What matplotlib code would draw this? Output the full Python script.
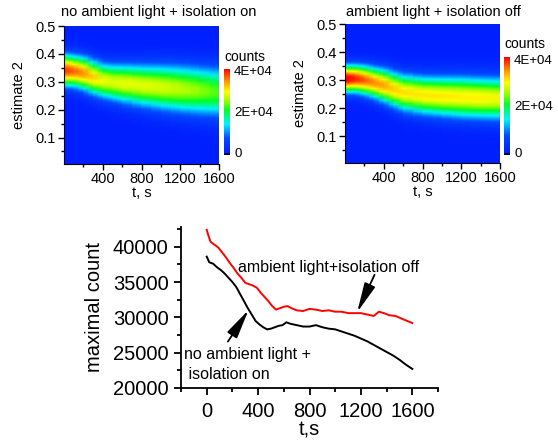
import numpy as np
import matplotlib
matplotlib.use('Agg')
import matplotlib.pyplot as plt
from matplotlib.colors import LinearSegmentedColormap, Normalize
from matplotlib.ticker import MultipleLocator, FixedLocator

plt.rcParams['font.family'] = ['Liberation Sans', 'DejaVu Sans']

# --- bottom panel: maximal count vs time ---
t_off = [0, 15, 30, 60, 90, 120, 150, 180, 210, 240, 270, 300, 330, 360, 390, 420,
         450, 480, 510, 540, 570, 600, 630, 660, 700, 750, 800, 850, 900, 950, 1000,
         1050, 1100, 1150, 1200, 1250, 1300, 1340, 1380, 1420, 1470, 1520, 1560, 1600]
count_off = [42400, 41500, 40700, 40300, 39900, 39200, 38500, 37700, 37000, 36200,
             35600, 34900, 34700, 34500, 34200, 33500, 32900, 32300, 31600, 31100,
             31300, 31500, 31600, 31300, 31000, 30900, 31200, 31100, 30900, 31000,
             30800, 30800, 30600, 30600, 30600, 30400, 30200, 30800, 30600, 30300,
             30200, 29800, 29500, 29200]

t_on = [0, 20, 50, 80, 110, 140, 170, 200, 230, 260, 290, 320, 350, 380, 410, 440,
        470, 500, 530, 560, 590, 620, 650, 700, 750, 800, 850, 900, 950, 1000, 1050,
        1100, 1150, 1200, 1250, 1300, 1350, 1400, 1450, 1500, 1550, 1600]
count_on = [38600, 37800, 37600, 37100, 36700, 36200, 35600, 35000, 34300, 33300,
            32300, 31300, 30400, 29500, 29000, 28600, 28300, 28400, 28600, 28800,
            28900, 29300, 29100, 28900, 28700, 28700, 28900, 28600, 28400, 28300,
            28000, 27700, 27400, 27000, 26600, 26100, 25600, 25100, 24600, 24000,
            23300, 22700]

# --- top panels: band profile read at knot times ---
knot_t = [0, 100, 200, 300, 400, 500, 600, 800, 1000, 1200, 1400, 1600]
centre_on = [0.343, 0.340, 0.332, 0.318, 0.306, 0.300, 0.296, 0.288, 0.282, 0.276, 0.270, 0.264]
sigma_on = [0.038, 0.038, 0.040, 0.042, 0.043, 0.045, 0.047, 0.051, 0.055, 0.058, 0.060, 0.062]
peak_on = [38600, 36800, 35000, 32000, 29300, 28300, 29000, 28700, 28200, 27000, 25100, 22700]
centre_off = [0.307, 0.307, 0.302, 0.293, 0.283, 0.270, 0.258, 0.248, 0.244, 0.241, 0.238, 0.236]
sigma_off = [0.032, 0.033, 0.035, 0.037, 0.040, 0.042, 0.044, 0.046, 0.048, 0.050, 0.050, 0.051]
peak_off = [42400, 39800, 37300, 35200, 34200, 32300, 31300, 31000, 30800, 30500, 30500, 29200]

cbar_ticks = [0, 20000, 40000]
cbar_labels = ['0', '2E+04', '4E+04']

# Origin-like rainbow palette with black at the bottom
cmap = LinearSegmentedColormap.from_list('origin_rainbow', [
    (0.0, (0, 0, 0)), (0.012, (0, 0, 0)), (0.022, (0, 0.12, 1)),
    (0.2, (0, 0.3, 1)), (0.36, (0, 0.95, 1)), (0.52, (0, 1, 0.15)),
    (0.62, (0.55, 1, 0)), (0.74, (1, 1, 0)), (0.87, (1, 0.55, 0)), (1.0, (1, 0, 0))])
norm = Normalize(vmin=-1000, vmax=40800)

fig = plt.figure(figsize=(5.58, 4.43), dpi=100)

def heat_panel(rect, crect, title, title_x, centre, sigma, peak):
    ax = fig.add_axes(rect)
    yy = np.linspace(0.0, 0.5, 251)
    tt = np.array(knot_t)
    Y, T = np.meshgrid(yy, tt, indexing='ij')
    Z = np.array(peak)[None, :] * np.exp(-(Y - np.array(centre)[None, :]) ** 2
                                         / (2 * np.array(sigma)[None, :] ** 2))
    im = ax.pcolormesh(T, Y, Z, cmap=cmap, norm=norm, shading='gouraud', rasterized=True)
    ax.set_xlim(0, 1600)
    ax.set_ylim(0.005, 0.5)
    ax.xaxis.set_major_locator(FixedLocator([400, 800, 1200, 1600]))
    ax.xaxis.set_minor_locator(FixedLocator([200, 600, 1000, 1400]))
    ax.yaxis.set_major_locator(FixedLocator([0.1, 0.2, 0.3, 0.4, 0.5]))
    ax.yaxis.set_minor_locator(FixedLocator([0.05, 0.15, 0.25, 0.35, 0.45]))
    ax.set_yticklabels(['0.1', '0.2', '0.3', '0.4', '0.5'])
    ax.tick_params(direction='out', labelsize=10.5, length=4, width=1, pad=2)
    ax.tick_params(which='minor', direction='out', length=2.5, width=1)
    for s in ['top', 'right']:
        ax.spines[s].set_visible(False)
    ax.set_xlabel('t, s', fontsize=10.5, labelpad=0)
    ax.set_ylabel('estimate 2', fontsize=10.5, labelpad=7)
    fig.text(title_x, 0.972, title, fontsize=10.5, ha='center', va='center')
    cax = fig.add_axes(crect)
    cb = fig.colorbar(im, cax=cax, ticks=cbar_ticks)
    cb.ax.set_yticklabels(cbar_labels)
    cb.ax.tick_params(length=0, labelsize=9.5, pad=3)
    cb.outline.set_visible(False)
    cax.text(0.0, 1.06, 'counts', transform=cax.transAxes, fontsize=10,
             ha='left', va='bottom')
    return ax

heat_panel([0.1147, 0.6298, 0.2778, 0.3115], [0.4014, 0.650, 0.0108, 0.194],
           'no ambient light + isolation on', 159 / 558, centre_on, sigma_on, peak_on)
heat_panel([0.6183, 0.632, 0.2778, 0.3138], [0.9032, 0.650, 0.0108, 0.221],
           'ambient light + isolation off', 433 / 558, centre_off, sigma_off, peak_off)

ax = fig.add_axes([0.3244, 0.1242, 0.4606, 0.3634])
ax.plot(t_off, count_off, color='red', lw=1.4)
ax.plot(t_on, count_on, color='black', lw=1.4)
ax.set_xlim(-200, 1800)
ax.set_ylim(20000, 42800)
ax.xaxis.set_major_locator(FixedLocator([0, 400, 800, 1200, 1600]))
ax.xaxis.set_minor_locator(FixedLocator([-200, 200, 600, 1000, 1400, 1800]))
ax.yaxis.set_major_locator(MultipleLocator(5000))
ax.yaxis.set_minor_locator(MultipleLocator(2500))
ax.tick_params(direction='out', labelsize=14.5, length=5, width=1.3, pad=4)
ax.tick_params(axis='x', pad=5)
ax.tick_params(which='minor', direction='out', length=3, width=1.3)
for s in ['top', 'right']:
    ax.spines[s].set_visible(False)
for s in ['left', 'bottom']:
    ax.spines[s].set_linewidth(1.3)
ax.set_xlabel('t,s', fontsize=14.5, labelpad=0)
ax.set_ylabel('maximal count', fontsize=14.5, labelpad=6)

ax.text(241, 37100, 'ambient light+isolation off', fontsize=11.5, ha='left', va='center')
ax.text(-175, 23300, 'no ambient light +\n isolation on', fontsize=11.5, ha='left',
        va='center', linespacing=1.45)
arrow = dict(arrowstyle='-|>,head_length=1.8,head_width=0.35', color='black',
             lw=1.3, mutation_scale=10, shrinkA=0, shrinkB=0)
ax.annotate('', xy=(326, 31060), xytext=(165, 26570), arrowprops=arrow)
ax.annotate('', xy=(1171, 30740), xytext=(1306, 36030), arrowprops=arrow)

fig.savefig('out.png', dpi=100)
